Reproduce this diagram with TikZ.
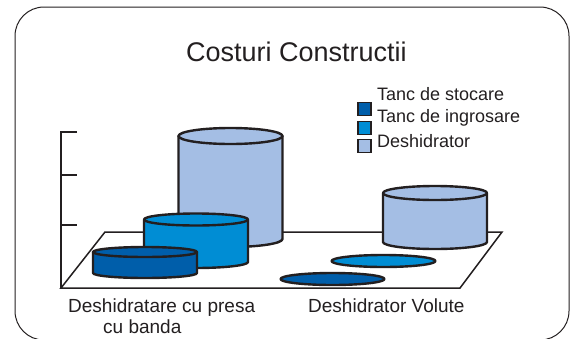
\documentclass[tikz,border=0pt]{standalone}
\usepackage{fontspec}
\setmainfont{Liberation Sans}
\usepackage{tikz}
\usetikzlibrary{calc}
\definecolor{inkgray}{HTML}{231F20}
\definecolor{stocblue}{HTML}{005EAA}
\definecolor{ingrblue}{HTML}{008DD4}
\definecolor{deshblue}{HTML}{A4BEE4}
\tikzset{tankline/.style={draw=inkgray, line width=2.4pt, line join=round},
  floorline/.style={draw=inkgray, line width=1.5pt},
  legbox/.style={shape=rectangle, draw=inkgray, line width=1.4pt, minimum size=13pt, inner sep=0pt},
  labltext/.style={anchor=base west, inner sep=0pt, text=inkgray}}
% x centre, top y, bottom y, y radius, colour
\newcommand{\tank}[5]{
  \filldraw[tankline, fill=#5] ( #1 -52 , #2 ) -- ( #1 -52 , #3 ) arc (180:0:52 and #4) -- ( #1 +52 , #2 ) -- cycle;
  \filldraw[tankline, fill=#5] ( #1 , #2 ) ellipse (52 and #4);}
\newcommand{\disc}[3]{ \filldraw[tankline, fill=#3] ( #1 , #2 ) ellipse (52 and 6);}
\begin{document}
\begin{tikzpicture}[x=1pt,y=-1pt]
        \useasboundingbox (0,0) rectangle (576,338);
        \draw[inkgray, line width=1pt, rounded corners=29pt] (15,7) rectangle (569,340);

        % title
        \node[anchor=base, inner sep=0pt, text=inkgray, font=\fontsize{27}{32}\selectfont] (title) at (296.5,61) {Costuri Constructii};

        % legend
        \node[legbox, fill=stocblue] (keystoc) at (364.5,109) {};
        \node[legbox, fill=ingrblue] (keyingr) at (364.5,128) {};
        \node[legbox, fill=deshblue] (keydesh) at (364.5,146) {};
        \node[labltext, font=\fontsize{18}{20}\selectfont] (labstoc) at (377,100) {Tanc de stocare};
        \node[labltext, font=\fontsize{18}{20}\selectfont] (labingr) at (377,122) {Tanc de ingrosare};
        \node[labltext, font=\fontsize{18}{20}\selectfont] (labdesh) at (377,147) {Deshidrator};

        % axis and floor
        \draw[floorline] (77,132) -- (61,132) -- (61,288);
        \foreach \ty in {175,225} {\draw[floorline] (61,\ty) -- (77,\ty);}
        \draw[floorline, fill=white] (61,288) -- (460,288) -- (502,232) -- (105,232) -- cycle;

        % group 1
        \tank{230.5}{136}{239}{8}{deshblue}
        \tank{196}{219.5}{262}{6}{ingrblue}
        \tank{145}{252}{273}{5}{stocblue}

        % group 2
        \tank{435}{193}{242}{7}{deshblue}
        \disc{383.5}{261}{ingrblue}
        \disc{332.5}{279}{stocblue}

        % categories
        \node[labltext, font=\fontsize{19}{21}\selectfont] (catpresa) at (68,312) {Deshidratare cu presa};
        \node[labltext, font=\fontsize{19}{21}\selectfont] (catbanda) at (103,333) {cu banda};
        \node[labltext, font=\fontsize{19}{21}\selectfont] (catvolute) at (308,312) {Deshidrator Volute};
    \end{tikzpicture}
\end{document}
